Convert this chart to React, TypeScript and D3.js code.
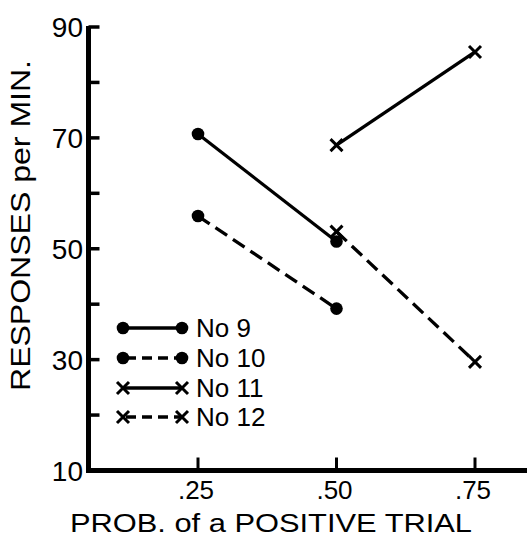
import React from "react";
import * as d3 from "d3";

// values
const xTicks = [0.25, 0.5, 0.75];
const xTickLabels = [".25", ".50", ".75"];
const yMajor = [90, 70, 50, 30, 10];
const yMinor = [80, 60, 40, 20];

const no9X = [0.25, 0.5];
const no9Y = [70.7, 51.3];
const no10X = [0.25, 0.5];
const no10Y = [55.9, 39.2];
const no11X = [0.5, 0.75];
const no11Y = [68.7, 85.5];
const no12X = [0.5, 0.75];
const no12Y = [53.1, 29.6];

const seriesNames = ["No 9", "No 10", "No 11", "No 12"];

const W = 527;
const H = 538;
const FONT = "'Liberation Sans', Arial, sans-serif";

export default function App() {
  const x = d3.scaleLinear().domain([0.25, 0.75]).range([198, 475]);
  const y = d3.scaleLinear().domain([10, 90]).range([470.5, 27]);
  const axisLeft = 88.5;
  const axisBottom = y(10);

  const series = [
    { name: seriesNames[0], xs: no9X, ys: no9Y, dash: null, marker: "dot" },
    { name: seriesNames[1], xs: no10X, ys: no10Y, dash: "14,7", marker: "dot" },
    { name: seriesNames[2], xs: no11X, ys: no11Y, dash: null, marker: "cross" },
    { name: seriesNames[3], xs: no12X, ys: no12Y, dash: "14,7", marker: "cross" },
  ];

  const line = d3
    .line<[number, number]>()
    .x((d) => x(d[0]))
    .y((d) => y(d[1]));

  const marker = (kind: string, cx: number, cy: number, key: string) =>
    kind === "dot" ? (
      <circle key={key} cx={cx} cy={cy} r={6.3} fill="#000" />
    ) : (
      <path
        key={key}
        d={`M${cx - 6},${cy - 6}L${cx + 6},${cy + 6}M${cx - 6},${cy + 6}L${cx + 6},${cy - 6}`}
        stroke="#000"
        strokeWidth={3}
        fill="none"
      />
    );

  const legendY = [328, 358, 388, 417];

  return (
    <svg
      width={W}
      height={H}
      style={{ position: "absolute", left: 0, top: 0, background: "#fff" }}
      fontFamily={FONT}
    >
      {/* axes */}
      <line x1={axisLeft} x2={axisLeft} y1={y(90) - 1} y2={axisBottom + 2.5} stroke="#000" strokeWidth={5} />
      <line x1={axisLeft - 2.5} x2={W} y1={axisBottom} y2={axisBottom} stroke="#000" strokeWidth={5} />

      {yMajor.concat(yMinor).map((v) => (
        <line key={"yt" + v} x1={axisLeft} x2={axisLeft + 11} y1={y(v)} y2={y(v)} stroke="#000" strokeWidth={3.5} />
      ))}
      {yMajor.map((v) => (
        <text key={"yl" + v} x={83} y={y(v)} dy="0.36em" textAnchor="end" fontSize={28}>
          {v}
        </text>
      ))}

      {xTicks.map((v, i) => (
        <g key={"xt" + v}>
          <line x1={x(v)} x2={x(v)} y1={axisBottom} y2={axisBottom - 13} stroke="#000" strokeWidth={3} />
          <text x={x(v) - 2} y={499} textAnchor="middle" fontSize={26}>
            {xTickLabels[i]}
          </text>
        </g>
      ))}

      {/* axis titles */}
      <text x={70} y={532} fontSize={25} textLength={402} lengthAdjust="spacingAndGlyphs">
        PROB. of a POSITIVE TRIAL
      </text>
      <text
        transform="translate(30,391) rotate(-90)"
        fontSize={27}
        textLength={331}
        lengthAdjust="spacingAndGlyphs"
      >
        RESPONSES per MIN.
      </text>

      {/* series */}
      {series.map((s) => {
        const pts = s.xs.map((v, i) => [v, s.ys[i]] as [number, number]);
        return (
          <g key={s.name}>
            <path d={line(pts) || ""} fill="none" stroke="#000" strokeWidth={3.3} strokeDasharray={s.dash || undefined} />
            {pts.map((p, i) => marker(s.marker, x(p[0]), y(p[1]), s.name + i))}
          </g>
        );
      })}

      {/* legend */}
      {series.map((s, i) => (
        <g key={"lg" + s.name}>
          <line
            x1={123}
            x2={182}
            y1={legendY[i]}
            y2={legendY[i]}
            stroke="#000"
            strokeWidth={3.3}
            strokeDasharray={s.dash ? "10,6" : undefined}
            strokeDashoffset={s.dash ? -3 : 0}
          />
          {marker(s.marker, 123, legendY[i], "lm1" + i)}
          {marker(s.marker, 182, legendY[i], "lm2" + i)}
          <text x={196} y={legendY[i]} dy="0.36em" fontSize={26}>
            {s.name}
          </text>
        </g>
      ))}
    </svg>
  );
}
